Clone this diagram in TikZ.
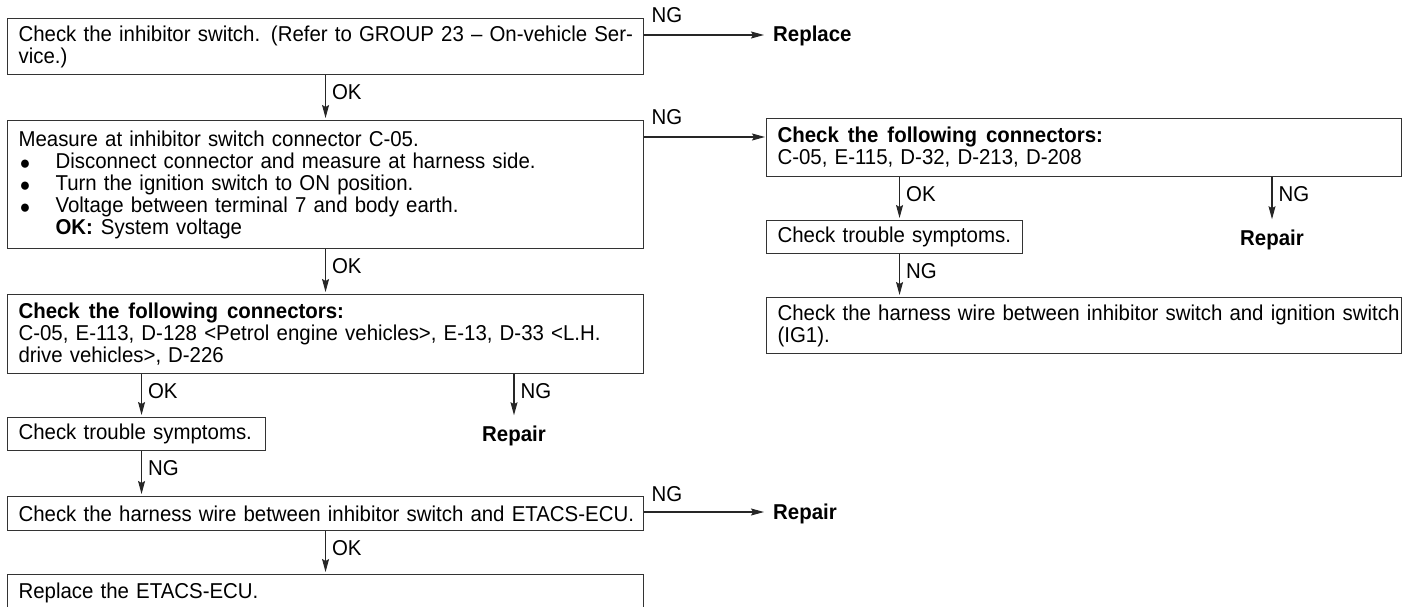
\documentclass[tikz,border=0pt]{standalone}
\usepackage{fontspec}
\setmainfont{Liberation Sans}[FakeStretch=0.95]
\usetikzlibrary{arrows.meta}
\newcommand\fs{\fontsize{21.5}{22}\selectfont}
\newcommand\jl[2]{\makebox[#1][s]{#2}}
\newcommand\bl{\makebox[37pt][l]{\hspace{1pt}\smash{\raisebox{-1pt}{\fontsize{19}{19}\selectfont ●}}}}
\newcommand\bsp{\hspace{9pt}}
\tikzset{
  box/.style={draw=black!80, line width=1.1pt, anchor=north west, inner xsep=11pt, inner ysep=0pt, align=left, font=\fs},
  lbl/.style={inner sep=0pt, font=\fs},
  res/.style={inner sep=0pt, font=\fs\bfseries},
  arr/.style={draw=black!85, line width=1.1pt, shorten >=2pt, -{Stealth[length=13pt,width=7pt,inset=2pt]}},
  ok/.style={lbl, pos=0, anchor=north west, xshift=6pt, yshift=-9pt},
  ng/.style={lbl, pos=0, anchor=south west, xshift=7pt, yshift=12pt}
}
\begin{document}
\begin{tikzpicture}[x=1pt,y=-1pt]
\useasboundingbox (0,0) rectangle (1407,607);
% left column
\node[box, text width=614pt, minimum height=56pt] (b1) at (7,18)
  {\jl{614pt}{Check the inhibitor switch. (Refer to GROUP 23 -- On-vehicle Ser-}\\vice.)};
\node[box, text width=614pt, minimum height=128pt] (b2) at (7,120)
  {Measure at inhibitor switch connector C-05.\\
   \bl Disconnect connector and measure at harness side.\\
   \bl Turn the ignition switch to ON position.\\
   \bl Voltage between terminal 7 and body earth.\\
   \hspace*{37pt}\textbf{OK:}\hspace{8pt}System voltage};
\node[box, text width=614pt, minimum height=79pt] (b3) at (7,294)
  {\textbf{Check\bsp the\bsp following\bsp connectors:}\\
   \jl{614pt}{C-05, E-113, D-128 <Petrol engine vehicles>, E-13, D-33 <L.H.}\\
   drive\hspace{7pt}vehicles>,\hspace{7pt}D-226};
\node[box, text width=236pt, minimum height=33pt] (t1) at (7,417) {\mbox{Check trouble symptoms.}};
\node[box, text width=614pt, minimum height=34pt] (h) at (7,496)
  {\makebox[614pt][l]{Check the harness wire between inhibitor switch and ETACS-ECU.}};
\node[box, text width=614pt, minimum height=36pt] (last) at (7,574) {Replace the ETACS-ECU.};
% right column
\node[box, text width=613pt, minimum height=58pt] (r1) at (766,118)
  {\textbf{Check\bsp the\bsp following\bsp connectors:}\\C-05, E-115, D-32, D-213, D-208};
\node[box, text width=234pt, minimum height=33pt] (t2) at (766,220) {\mbox{Check trouble symptoms.}};
\node[box, text width=613pt, minimum height=56pt] (r3) at (766,297)
  {\jl{613pt}{Check the harness wire between inhibitor switch and ignition switch}\\(IG1).};
% result labels
\node[res, anchor=base west] (rp0) at (773,42) {Replace};
\node[res, anchor=base] (rp1) at (514,441) {Repair};
\node[res, anchor=base] (rp2) at (1272,245) {Repair};
\node[res, anchor=base west] (rp3) at (773,519) {Repair};
% connectors
\draw[arr, shorten >=9pt] ([yshift=-17pt]b1.north east) -- node[ng]{NG} ([yshift=-17pt]b1.north east -| rp0.west);
\draw[arr] (b1.south) -- node[ok]{OK} (b2.north);
\draw[arr, shorten >=1pt] ([yshift=-17pt]b2.north east) -- node[ng]{NG} ([yshift=-17pt]b2.north east -| r1.west);
\draw[arr] (b2.south) -- node[ok]{OK} (b3.north);
\draw[arr] ([xshift=5pt]t1.north |- b3.south) -- node[ok]{OK} ([xshift=5pt]t1.north);
\draw[arr, shorten >=10pt] (rp1.north |- b3.south) -- node[ok]{NG} (rp1.north);
\draw[arr] ([xshift=5pt]t1.south) -- node[ok]{NG} ([xshift=5pt]t1.south |- h.north);
\draw[arr, shorten >=9pt] ([yshift=-16pt]h.north east) -- node[ng, yshift=-2pt]{NG} ([yshift=-16pt]h.north east -| rp3.west);
\draw[arr] (h.south) -- node[ok]{OK} (last.north);
\draw[arr] ([xshift=5pt]t2.north |- r1.south) -- node[ok]{OK} ([xshift=5pt]t2.north);
\draw[arr, shorten >=10pt] (rp2.north |- r1.south) -- node[ok]{NG} (rp2.north);
\draw[arr] ([xshift=5pt]t2.south) -- node[ok]{NG} ([xshift=5pt]t2.south |- r3.north);
\end{tikzpicture}
\end{document}
